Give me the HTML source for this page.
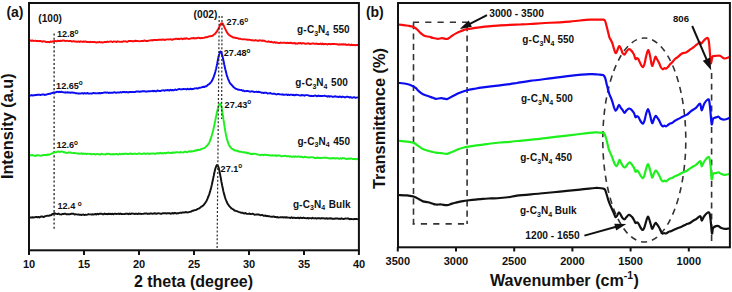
<!DOCTYPE html>
<html><head><meta charset="utf-8"><style>
html,body{margin:0;padding:0;background:#fff;width:732px;height:292px;overflow:hidden}
svg text{font-family:"Liberation Sans",sans-serif;font-weight:bold}
</style></head><body>
<svg width="732" height="292" viewBox="0 0 732 292" style="position:absolute;left:0;top:0;font-family:'Liberation Sans',sans-serif;font-weight:bold"><rect width="732" height="292" fill="#fff"/><g stroke="#1a1a1a" stroke-width="1.25" stroke-dasharray="2.1 2.1" fill="none"><line x1="54.1" y1="33.5" x2="54.1" y2="231"/></g><g fill="none" stroke-width="1.95" stroke-linejoin="round" stroke-linecap="round"><path d="M29.5,40.49 L30.5,40.43 L31.5,40.9 L32.5,40.5 L33.5,40.94 L34.5,40.88 L35.5,40.7 L36.5,41.13 L37.5,40.83 L38.5,41.21 L39.5,40.98 L40.5,41.05 L41.5,41.36 L42.5,41.74 L43.5,41.22 L44.5,41.35 L45.5,41.75 L46.5,42.11 L47.5,41.91 L48.5,41.87 L49.5,42.32 L50.5,41.46 L51.5,42 L52.5,41.43 L53.5,41.2 L54.5,41.05 L55.5,41.08 L56.5,41.35 L57.5,40.71 L58.5,40.97 L59.5,41.01 L60.5,40.8 L61.5,40.94 L62.5,40.55 L63.5,40.55 L64.5,40.66 L65.5,41.04 L66.5,40.87 L67.5,40.83 L68.5,41.1 L69.5,41.05 L70.5,40.98 L71.5,41.43 L72.5,41.41 L73.5,41.1 L74.5,41.42 L75.5,41.43 L76.5,41.77 L77.5,41.7 L78.5,41.4 L79.5,42 L80.5,41.34 L81.5,41.61 L82.5,41.91 L83.5,41.45 L84.5,41.75 L85.5,41.42 L86.5,41.95 L87.5,42.05 L88.5,41.93 L89.5,42.2 L90.5,41.78 L91.5,42.11 L92.5,42.06 L93.5,42.08 L94.5,42.01 L95.5,42.34 L96.5,42.46 L97.5,42.11 L98.5,42.29 L99.5,41.83 L100.5,42.35 L101.5,42.27 L102.5,42.52 L103.5,42.35 L104.5,41.89 L105.5,41.95 L106.5,42.14 L107.5,41.6 L108.5,41.92 L109.5,41.65 L110.5,41.58 L111.5,41.51 L112.5,42.04 L113.5,41.5 L114.5,41.57 L115.5,41.65 L116.5,42.01 L117.5,41.34 L118.5,41.61 L119.5,41.66 L120.5,41.9 L121.5,41.81 L122.5,41.82 L123.5,41.32 L124.5,41.4 L125.5,41.33 L126.5,41.72 L127.5,41.75 L128.5,41.07 L129.5,41.06 L130.5,41.07 L131.5,41.05 L132.5,41.22 L133.5,41.27 L134.5,40.98 L135.5,40.74 L136.5,41.04 L137.5,40.97 L138.5,41.1 L139.5,41.38 L140.5,41.13 L141.5,40.94 L142.5,40.97 L143.5,40.97 L144.5,40.42 L145.5,41.04 L146.5,40.9 L147.5,40.92 L148.5,40.81 L149.5,40.44 L150.5,40.39 L151.5,40.1 L152.5,40.48 L153.5,39.97 L154.5,39.92 L155.5,39.98 L156.5,39.9 L157.5,39.99 L158.5,39.7 L159.5,39.61 L160.5,39.68 L161.5,39.59 L162.5,39.75 L163.5,39.42 L164.5,40.05 L165.5,39.79 L166.5,39.36 L167.5,39.39 L168.5,39.42 L169.5,39.38 L170.5,39.13 L171.5,39.66 L172.5,39.72 L173.5,39.24 L174.5,39.2 L175.5,38.83 L176.5,38.78 L177.5,38.92 L178.5,38.8 L179.5,39.19 L180.5,38.61 L181.5,38.46 L182.5,39.16 L183.5,38.78 L184.5,38.44 L185.5,38.71 L186.5,38.25 L187.5,38.61 L188.5,38.92 L189.5,38.78 L190.5,38.6 L191.5,38.2 L192.5,38.23 L193.5,38.01 L194.5,38.43 L195.5,38.18 L196.5,38.3 L197.5,37.87 L198.5,37.71 L199.5,38.09 L200.5,38.17 L201.5,38.02 L202.5,37.92 L203.5,37.87 L204.5,37.72 L205.5,37.21 L206.5,37.31 L207.5,37.03 L208.5,36.57 L209.5,36.34 L210.5,36.24 L211.5,35.86 L211.9,35.95 L212.15,35.94 L212.4,35.61 L212.65,35.67 L212.9,35.55 L213.15,35.39 L213.4,34.99 L213.65,34.76 L213.9,34.59 L214.15,34.38 L214.4,34.18 L214.65,34.13 L214.9,34 L215.15,33.73 L215.4,33.32 L215.65,33.11 L215.9,32.87 L216.15,32.26 L216.4,32.16 L216.65,31.9 L216.9,31.47 L217.15,31.05 L217.4,30.52 L217.65,29.96 L217.9,29.74 L218.15,29.07 L218.4,28.75 L218.65,28.31 L218.9,27.55 L219.15,27.02 L219.4,26.71 L219.65,26.1 L219.9,25.37 L220.15,24.87 L220.4,24.44 L220.65,24.34 L220.9,23.96 L221.15,23.42 L221.4,23.49 L221.65,23.43 L221.9,23.26 L222.15,23.2 L222.4,23.43 L222.65,23.5 L222.9,23.78 L223.15,24.56 L223.4,24.89 L223.65,25.35 L223.9,26.06 L224.15,26.42 L224.4,27.17 L224.65,27.74 L224.9,28.07 L225.15,28.65 L225.4,29.22 L225.65,29.73 L225.9,30.38 L226.15,30.73 L226.4,31.26 L226.65,31.58 L226.9,32.3 L227.15,32.47 L227.4,32.88 L227.65,33.27 L227.9,33.72 L228.15,33.83 L228.4,34.31 L228.65,34.41 L228.9,34.68 L229.15,34.91 L229.4,34.93 L229.65,35.3 L229.9,35.39 L230.15,35.51 L230.4,36 L230.65,35.91 L230.9,36.18 L231.15,36.43 L231.4,36.49 L231.65,36.53 L231.9,36.73 L232.5,37.03 L233.5,37.59 L234.5,37.36 L235.5,37.98 L236.5,37.95 L237.5,38.16 L238.5,38.71 L239.5,38.64 L240.5,38.83 L241.5,39.13 L242.5,39.38 L243.5,39.13 L244.5,39.38 L245.5,39.4 L246.5,39.51 L247.5,39.75 L248.5,39.65 L249.5,39.81 L250.5,39.85 L251.5,40.31 L252.5,40.19 L253.5,40.42 L254.5,40.55 L255.5,40.08 L256.5,40.39 L257.5,40.77 L258.5,40.76 L259.5,40.27 L260.5,40.36 L261.5,40.73 L262.5,40.56 L263.5,40.81 L264.5,40.8 L265.5,41.39 L266.5,41.6 L267.5,41.81 L268.5,41.33 L269.5,41.9 L270.5,41.97 L271.5,41.67 L272.5,42.38 L273.5,42.56 L274.5,42.08 L275.5,42.78 L276.5,42.45 L277.5,42.63 L278.5,43.11 L279.5,43.02 L280.5,42.51 L281.5,42.76 L282.5,42.86 L283.5,42.75 L284.5,42.67 L285.5,42.8 L286.5,43.15 L287.5,42.62 L288.5,43.08 L289.5,43.02 L290.5,42.72 L291.5,43 L292.5,43.27 L293.5,43.21 L294.5,42.88 L295.5,43.65 L296.5,43.52 L297.5,43.7 L298.5,43.04 L299.5,43.2 L300.5,43.04 L301.5,43.66 L302.5,43.27 L303.5,43.18 L304.5,43.44 L305.5,43.85 L306.5,43.8 L307.5,43.37 L308.5,43.31 L309.5,43.95 L310.5,43.69 L311.5,43.82 L312.5,43.35 L313.5,43.35 L314.5,43.87 L315.5,43.69 L316.5,43.42 L317.5,44.14 L318.5,43.92 L319.5,44.09 L320.5,43.55 L321.5,44.2 L322.5,43.6 L323.5,44.27 L324.5,43.98 L325.5,43.92 L326.5,44.12 L327.5,44.45 L328.5,43.96 L329.5,43.88 L330.5,44.23 L331.5,44.03 L332.5,43.96 L333.5,44.04 L334.5,43.98 L335.5,44.13 L336.5,44.25 L337.5,44.28 L338.5,44.68 L339.5,44.33 L340.5,44.53 L341.5,44.31 L342.5,44.48 L343.5,44.25 L344.5,44.46 L345.5,44.31 L346.5,44.91 L347.5,44.8 L348.5,44.54 L349.5,44.8 L350.5,45.21 L351.5,44.57 L352.5,45.18 L353.5,44.9 L354.5,44.98 L355.5,45.29 L356.5,44.97 L357.5,45.09" stroke="#fa0a0a"/><path d="M29.5,95.44 L30.5,95.64 L31.5,95.1 L32.5,95.46 L33.5,95.33 L34.5,95.24 L35.5,95.03 L36.5,94.95 L37.5,94.69 L38.5,94.72 L39.5,94.62 L40.5,95.09 L41.5,94.64 L42.5,94.5 L43.5,94.37 L44.5,94.91 L45.5,94.83 L46.5,94.55 L47.5,94.11 L48.5,93.96 L49.5,93.8 L50.5,93.67 L51.5,93.16 L52.5,93.01 L53.5,92.36 L54.5,92.54 L55.5,92.44 L56.5,92 L57.5,91.65 L58.5,92.22 L59.5,91.8 L60.5,91.94 L61.5,91.75 L62.5,92.16 L63.5,92.33 L64.5,92.45 L65.5,92.31 L66.5,92.63 L67.5,92.28 L68.5,92.54 L69.5,92.45 L70.5,92.74 L71.5,92.51 L72.5,92.55 L73.5,92.83 L74.5,92.83 L75.5,93.17 L76.5,93.18 L77.5,93.41 L78.5,93.4 L79.5,93.47 L80.5,93.6 L81.5,93.21 L82.5,93.16 L83.5,93.69 L84.5,93.02 L85.5,93.48 L86.5,93.41 L87.5,92.94 L88.5,93.57 L89.5,93.6 L90.5,93.36 L91.5,93.41 L92.5,93.45 L93.5,92.88 L94.5,93.16 L95.5,93.11 L96.5,93.35 L97.5,93.29 L98.5,93.28 L99.5,93.06 L100.5,93.27 L101.5,93.07 L102.5,93.05 L103.5,92.65 L104.5,92.46 L105.5,92.52 L106.5,92.67 L107.5,92.43 L108.5,92.99 L109.5,92.74 L110.5,92.76 L111.5,92.73 L112.5,92.74 L113.5,92.56 L114.5,92.14 L115.5,92.74 L116.5,92.67 L117.5,92.45 L118.5,92.44 L119.5,92.51 L120.5,92 L121.5,92.5 L122.5,92.08 L123.5,91.9 L124.5,92.02 L125.5,92.35 L126.5,91.9 L127.5,92.29 L128.5,92.44 L129.5,92.02 L130.5,91.9 L131.5,91.94 L132.5,92.06 L133.5,92.09 L134.5,91.94 L135.5,91.92 L136.5,91.43 L137.5,91.45 L138.5,91.5 L139.5,91.85 L140.5,91.47 L141.5,91.64 L142.5,91.16 L143.5,91.16 L144.5,91.29 L145.5,91.57 L146.5,91.55 L147.5,91.5 L148.5,91.15 L149.5,91.29 L150.5,91.19 L151.5,91.14 L152.5,90.81 L153.5,91.37 L154.5,90.76 L155.5,91.33 L156.5,91.24 L157.5,90.45 L158.5,90.74 L159.5,90.98 L160.5,91.04 L161.5,90.57 L162.5,90.36 L163.5,90.26 L164.5,90.79 L165.5,90.14 L166.5,90.38 L167.5,89.96 L168.5,90.21 L169.5,90.49 L170.5,89.77 L171.5,90.25 L172.5,89.94 L173.5,90.18 L174.5,89.96 L175.5,89.51 L176.5,89.98 L177.5,89.58 L178.5,89.13 L179.5,89.04 L180.5,89.38 L181.5,89.32 L182.5,89.17 L183.5,89 L184.5,89.13 L185.5,89.06 L186.5,89.44 L187.5,88.72 L188.5,89.26 L189.5,89.28 L190.5,88.64 L191.5,89.21 L192.5,88.96 L193.5,89.02 L194.5,88.44 L195.5,88.39 L196.5,88.29 L197.5,88.63 L198.5,88.15 L199.5,87.79 L200.5,87.67 L201.5,87.37 L202.5,86.98 L203.5,86.76 L204.5,87.04 L205.5,86.22 L206.5,86.28 L207.5,85.17 L208.5,84.49 L209.5,83.82 L210.5,82.61 L210.75,82.37 L211,82.27 L211.25,81.89 L211.5,81.49 L211.75,81.03 L212,80.72 L212.25,80.29 L212.5,79.66 L212.75,79.23 L213,78.43 L213.25,78.14 L213.5,77.42 L213.75,76.91 L214,76.19 L214.25,75.33 L214.5,74.47 L214.75,74.01 L215,72.84 L215.25,72.07 L215.5,71.07 L215.75,70.05 L216,69.18 L216.25,68.17 L216.5,66.74 L216.75,65.72 L217,64.35 L217.25,63.21 L217.5,61.88 L217.75,60.51 L218,59.25 L218.25,58.03 L218.5,57.11 L218.75,55.82 L219,54.67 L219.25,54.02 L219.5,53.26 L219.75,52.41 L220,51.82 L220.25,51.56 L220.5,51.44 L220.75,51.63 L221,51.79 L221.25,52.26 L221.5,52.82 L221.75,53.64 L222,54.57 L222.25,55.43 L222.5,56.29 L222.75,57.37 L223,58.54 L223.25,59.64 L223.5,60.82 L223.75,61.91 L224,63.2 L224.25,64.68 L224.5,65.52 L224.75,66.84 L225,68.02 L225.25,69.21 L225.5,70.02 L225.75,71.07 L226,72.06 L226.25,73.07 L226.5,74 L226.75,75.07 L227,75.86 L227.25,76.66 L227.5,77.07 L227.75,77.79 L228,78.74 L228.25,79.45 L228.5,79.89 L228.75,80.51 L229,80.82 L229.25,81.5 L229.5,82.2 L229.75,82.61 L230,83.06 L230.25,83.52 L230.5,83.61 L231.5,84.74 L232.5,85.85 L233.5,87.01 L234.5,87.85 L235.5,88.64 L236.5,88.96 L237.5,89.33 L238.5,89.77 L239.5,89.81 L240.5,90.14 L241.5,89.95 L242.5,90.74 L243.5,90.48 L244.5,91.19 L245.5,91.11 L246.5,90.97 L247.5,90.95 L248.5,91.16 L249.5,91.57 L250.5,91.71 L251.5,91.33 L252.5,91.38 L253.5,91.82 L254.5,91.93 L255.5,91.85 L256.5,91.78 L257.5,92.14 L258.5,91.73 L259.5,92.01 L260.5,92.23 L261.5,92.76 L262.5,92.63 L263.5,92.95 L264.5,92.74 L265.5,92.67 L266.5,92.8 L267.5,93.49 L268.5,93.4 L269.5,93.2 L270.5,93.08 L271.5,93.58 L272.5,93.83 L273.5,93.74 L274.5,93.72 L275.5,94.16 L276.5,94.48 L277.5,94.03 L278.5,93.95 L279.5,94.24 L280.5,94.35 L281.5,94.6 L282.5,94.26 L283.5,94.78 L284.5,94.78 L285.5,94.63 L286.5,94.43 L287.5,95.09 L288.5,94.6 L289.5,95.05 L290.5,94.62 L291.5,94.65 L292.5,95.13 L293.5,94.79 L294.5,95.36 L295.5,95.03 L296.5,94.83 L297.5,94.89 L298.5,95.09 L299.5,95.33 L300.5,95.59 L301.5,94.99 L302.5,95.23 L303.5,95.12 L304.5,95.77 L305.5,95.14 L306.5,95.11 L307.5,95.15 L308.5,95.46 L309.5,95.9 L310.5,95.92 L311.5,95.84 L312.5,96.09 L313.5,96.08 L314.5,95.63 L315.5,95.55 L316.5,96.19 L317.5,96.08 L318.5,95.55 L319.5,96.1 L320.5,95.91 L321.5,95.95 L322.5,95.96 L323.5,95.87 L324.5,95.78 L325.5,96.05 L326.5,96.15 L327.5,96.67 L328.5,96.05 L329.5,96.77 L330.5,96.2 L331.5,96.37 L332.5,96.78 L333.5,96.82 L334.5,96.55 L335.5,96.29 L336.5,96.67 L337.5,96.63 L338.5,97.11 L339.5,96.57 L340.5,96.75 L341.5,97.22 L342.5,96.57 L343.5,96.92 L344.5,97.28 L345.5,97.29 L346.5,96.75 L347.5,96.79 L348.5,96.85 L349.5,97.58 L350.5,97.09 L351.5,97.52 L352.5,97.69 L353.5,97.28 L354.5,97.27 L355.5,97.86 L356.5,97.63 L357.5,97.39" stroke="#0c0cf0"/><path d="M29.5,155.48 L30.5,155.18 L31.5,155.17 L32.5,154.97 L33.5,155.59 L34.5,155.74 L35.5,155.54 L36.5,155.8 L37.5,155.09 L38.5,155.28 L39.5,155.44 L40.5,155.74 L41.5,155.65 L42.5,155.12 L43.5,154.93 L44.5,154.99 L45.5,154.93 L46.5,155.15 L47.5,154.43 L48.5,154.8 L49.5,154.49 L50.5,154.16 L51.5,153.72 L52.5,153.23 L53.5,152.68 L54.5,152.39 L55.5,152.22 L56.5,152.34 L57.5,151.57 L58.5,151.57 L59.5,152.04 L60.5,151.66 L61.5,151.54 L62.5,151.6 L63.5,152.17 L64.5,152.14 L65.5,152.81 L66.5,152.84 L67.5,152.99 L68.5,152.48 L69.5,152.4 L70.5,152.48 L71.5,152.87 L72.5,153.1 L73.5,152.96 L74.5,152.87 L75.5,153.08 L76.5,153.32 L77.5,153.43 L78.5,153.56 L79.5,153.71 L80.5,153.64 L81.5,153.27 L82.5,153.92 L83.5,153.55 L84.5,153.84 L85.5,153.75 L86.5,154.12 L87.5,153.75 L88.5,153.86 L89.5,153.9 L90.5,153.82 L91.5,154.41 L92.5,154.16 L93.5,153.96 L94.5,154.02 L95.5,154.5 L96.5,154.11 L97.5,153.89 L98.5,154.35 L99.5,154.23 L100.5,154.5 L101.5,153.79 L102.5,154.08 L103.5,154.36 L104.5,154.38 L105.5,154.44 L106.5,153.74 L107.5,153.94 L108.5,153.8 L109.5,153.86 L110.5,154.48 L111.5,154.17 L112.5,154.45 L113.5,154 L114.5,154.4 L115.5,154.06 L116.5,153.91 L117.5,154.32 L118.5,154.46 L119.5,153.78 L120.5,154.16 L121.5,154.17 L122.5,153.83 L123.5,153.94 L124.5,153.75 L125.5,153.78 L126.5,153.81 L127.5,154.08 L128.5,154.11 L129.5,153.73 L130.5,153.57 L131.5,153.81 L132.5,154.08 L133.5,153.67 L134.5,153.76 L135.5,153.66 L136.5,154.12 L137.5,153.9 L138.5,153.5 L139.5,153.52 L140.5,153.74 L141.5,153.85 L142.5,153.91 L143.5,153.46 L144.5,153.5 L145.5,153.91 L146.5,153.67 L147.5,153.55 L148.5,153.55 L149.5,154.04 L150.5,153.49 L151.5,153.66 L152.5,153.45 L153.5,153.46 L154.5,153.78 L155.5,153.85 L156.5,153.3 L157.5,153.13 L158.5,153.51 L159.5,153.05 L160.5,152.85 L161.5,153.52 L162.5,153.1 L163.5,153.37 L164.5,153 L165.5,153.34 L166.5,152.95 L167.5,152.67 L168.5,152.5 L169.5,152.89 L170.5,152.91 L171.5,153.08 L172.5,152.37 L173.5,152.75 L174.5,152.49 L175.5,152.55 L176.5,152.2 L177.5,152.26 L178.5,152.39 L179.5,152.65 L180.5,151.94 L181.5,152.18 L182.5,152.36 L183.5,152.42 L184.5,151.73 L185.5,151.6 L186.5,152.17 L187.5,152.11 L188.5,151.63 L189.5,151.19 L190.5,151.77 L191.5,151.19 L192.5,151.44 L193.5,151.04 L194.5,151.03 L195.5,150.31 L196.5,150.6 L197.5,149.93 L198.5,149.84 L199.5,149.92 L200.5,149.66 L201.5,148.9 L202.5,148.63 L203.5,148.38 L204.5,147.97 L205.5,147.2 L206.5,146.11 L207.5,145.05 L208.5,143.92 L209.5,142.13 L210.2,139.98 L210.45,139.53 L210.7,138.93 L210.95,137.92 L211.2,137.48 L211.45,136.4 L211.7,135.77 L211.95,134.89 L212.2,134.02 L212.45,132.96 L212.7,132.03 L212.95,131.09 L213.2,130 L213.45,129.02 L213.7,127.84 L213.95,126.72 L214.2,125.4 L214.45,124.47 L214.7,123.22 L214.95,121.91 L215.2,120.91 L215.45,119.69 L215.7,118.33 L215.95,116.99 L216.2,115.88 L216.45,114.53 L216.7,113.36 L216.95,112.32 L217.2,111.07 L217.45,110.14 L217.7,109.14 L217.95,108 L218.2,107.35 L218.45,106.32 L218.7,105.86 L218.95,105.26 L219.2,104.63 L219.45,104.04 L219.7,103.93 L219.95,103.7 L220.2,103.88 L220.45,103.69 L220.7,104.36 L220.95,105.03 L221.2,105.77 L221.45,106.84 L221.7,107.82 L221.95,109.5 L222.2,110.8 L222.45,112.57 L222.7,114.21 L222.95,115.62 L223.2,117.6 L223.45,119.4 L223.7,120.79 L223.95,122.61 L224.2,124.45 L224.45,125.85 L224.7,127.73 L224.95,129.01 L225.2,130.7 L225.45,131.83 L225.7,133.31 L225.95,134.75 L226.2,135.66 L226.45,136.81 L226.7,137.97 L226.95,138.89 L227.2,139.7 L227.45,140.63 L227.7,141.42 L227.95,142.48 L228.2,143.06 L228.45,143.79 L228.7,144.08 L228.95,144.87 L229.2,145.1 L229.45,145.72 L229.7,146.18 L229.95,146.46 L230.2,147.02 L230.5,147.3 L231.5,148.36 L232.5,149.36 L233.5,149.31 L234.5,150.46 L235.5,150.54 L236.5,150.65 L237.5,151.23 L238.5,151.03 L239.5,151.8 L240.5,151.69 L241.5,151.75 L242.5,152.3 L243.5,152.25 L244.5,152.24 L245.5,152.89 L246.5,152.51 L247.5,153.3 L248.5,153.02 L249.5,153.49 L250.5,153.93 L251.5,153.76 L252.5,153.98 L253.5,153.84 L254.5,153.74 L255.5,153.91 L256.5,154.14 L257.5,154.65 L258.5,154.64 L259.5,154.84 L260.5,155.24 L261.5,154.68 L262.5,154.81 L263.5,155.2 L264.5,154.74 L265.5,154.77 L266.5,155.1 L267.5,154.95 L268.5,155.19 L269.5,155.13 L270.5,155.46 L271.5,155.51 L272.5,155.24 L273.5,155.62 L274.5,155.54 L275.5,155.31 L276.5,155.99 L277.5,155.48 L278.5,155.45 L279.5,155.46 L280.5,155.95 L281.5,156.19 L282.5,156.17 L283.5,155.92 L284.5,155.87 L285.5,155.72 L286.5,156.28 L287.5,156.27 L288.5,156.15 L289.5,156.44 L290.5,156.33 L291.5,156.78 L292.5,156.67 L293.5,156.34 L294.5,156.91 L295.5,156.28 L296.5,156.72 L297.5,156.67 L298.5,156.59 L299.5,156.5 L300.5,157.13 L301.5,156.56 L302.5,157.05 L303.5,157.41 L304.5,156.82 L305.5,156.92 L306.5,157.3 L307.5,157.27 L308.5,157.43 L309.5,157.62 L310.5,157.16 L311.5,157.32 L312.5,157.36 L313.5,157.21 L314.5,157.93 L315.5,157.9 L316.5,157.9 L317.5,157.38 L318.5,158.09 L319.5,158.04 L320.5,157.84 L321.5,158.09 L322.5,157.89 L323.5,157.73 L324.5,157.67 L325.5,157.79 L326.5,157.67 L327.5,157.93 L328.5,158.29 L329.5,158.28 L330.5,158.42 L331.5,158.34 L332.5,158.02 L333.5,158.27 L334.5,158.21 L335.5,158.52 L336.5,158.33 L337.5,158.15 L338.5,158.48 L339.5,158.77 L340.5,158.2 L341.5,158.75 L342.5,158.09 L343.5,158.31 L344.5,158.32 L345.5,158.75 L346.5,158.94 L347.5,158.81 L348.5,158.5 L349.5,158.97 L350.5,158.56 L351.5,158.51 L352.5,159.08 L353.5,158.88 L354.5,158.96 L355.5,158.96 L356.5,159.24 L357.5,158.86" stroke="#1ef01e"/><path d="M29.5,217.57 L30.5,217.44 L31.5,217.56 L32.5,217.21 L33.5,217.43 L34.5,217.3 L35.5,217.08 L36.5,216.99 L37.5,217.31 L38.5,216.87 L39.5,217.48 L40.5,216.77 L41.5,216.57 L42.5,216.54 L43.5,217.09 L44.5,216.53 L45.5,216.19 L46.5,215.85 L47.5,215.61 L48.5,215.88 L49.5,215.54 L50.5,215.26 L51.5,214.96 L52.5,213.93 L53.5,213.72 L54.5,213.16 L55.5,213.74 L56.5,213.91 L57.5,214.06 L58.5,213.5 L59.5,214.24 L60.5,214.38 L61.5,214.51 L62.5,213.87 L63.5,213.92 L64.5,213.81 L65.5,213.72 L66.5,214.34 L67.5,214.28 L68.5,214.11 L69.5,214.24 L70.5,214.05 L71.5,213.74 L72.5,213.65 L73.5,213.79 L74.5,214.46 L75.5,214.16 L76.5,214.4 L77.5,214.62 L78.5,214.45 L79.5,214.68 L80.5,214.66 L81.5,214.97 L82.5,214.65 L83.5,214.57 L84.5,215.04 L85.5,214.63 L86.5,214.86 L87.5,214.63 L88.5,214.12 L89.5,214.38 L90.5,214.36 L91.5,214.59 L92.5,214.2 L93.5,214.44 L94.5,214.27 L95.5,213.97 L96.5,214.44 L97.5,213.78 L98.5,214.32 L99.5,213.76 L100.5,213.6 L101.5,213.76 L102.5,214.2 L103.5,214.37 L104.5,213.58 L105.5,213.97 L106.5,213.96 L107.5,214.2 L108.5,213.71 L109.5,213.95 L110.5,213.83 L111.5,214.21 L112.5,213.75 L113.5,214.29 L114.5,213.76 L115.5,213.69 L116.5,214.08 L117.5,213.91 L118.5,213.59 L119.5,214.01 L120.5,213.56 L121.5,214.12 L122.5,214.04 L123.5,214.1 L124.5,213.97 L125.5,213.74 L126.5,213.77 L127.5,213.76 L128.5,214.15 L129.5,213.5 L130.5,214.13 L131.5,213.43 L132.5,213.57 L133.5,213.6 L134.5,214.11 L135.5,213.78 L136.5,213.67 L137.5,214.06 L138.5,213.53 L139.5,213.7 L140.5,213.75 L141.5,213.92 L142.5,213.9 L143.5,213.81 L144.5,213.56 L145.5,213.53 L146.5,213.38 L147.5,213.91 L148.5,213.75 L149.5,213.8 L150.5,213.33 L151.5,213.55 L152.5,213.81 L153.5,213.65 L154.5,213.28 L155.5,213.55 L156.5,213.88 L157.5,213.35 L158.5,213.31 L159.5,213.39 L160.5,213.7 L161.5,213.8 L162.5,213.23 L163.5,213.22 L164.5,213.28 L165.5,213.32 L166.5,213.46 L167.5,213.15 L168.5,213.26 L169.5,213.13 L170.5,213.73 L171.5,213.5 L172.5,212.97 L173.5,213.62 L174.5,212.89 L175.5,213.07 L176.5,213.51 L177.5,213.31 L178.5,213.2 L179.5,212.9 L180.5,212.64 L181.5,212.92 L182.5,212.42 L183.5,212.41 L184.5,212.46 L185.5,212.07 L186.5,212.24 L187.5,212.42 L188.5,212.2 L189.5,211.89 L190.5,211.75 L191.5,211.3 L192.5,210.7 L193.5,210.7 L194.5,210.14 L195.5,210.03 L196.5,209.81 L197.5,209.02 L198.5,208.67 L199.5,208.27 L200.5,207.39 L201.5,206.51 L202.5,206.06 L203.5,205.19 L204.5,203.92 L205.5,202.47 L206.5,200.92 L207.2,199.35 L207.45,198.81 L207.7,198.18 L207.95,197.54 L208.2,197.07 L208.45,196.22 L208.7,195.69 L208.95,195.14 L209.2,194.39 L209.45,193.6 L209.7,192.66 L209.95,191.91 L210.2,191.07 L210.45,190.24 L210.7,189.23 L210.95,188.38 L211.2,187.48 L211.45,186.15 L211.7,185.28 L211.95,184.23 L212.2,182.95 L212.45,181.84 L212.7,180.86 L212.95,179.3 L213.2,178.3 L213.45,176.93 L213.7,175.98 L213.95,174.84 L214.2,173.5 L214.45,172.19 L214.7,171.27 L214.95,170.21 L215.2,169.3 L215.45,168.31 L215.7,167.55 L215.95,166.92 L216.2,166.2 L216.45,165.68 L216.7,165.55 L216.95,165.05 L217.2,165.17 L217.45,165.15 L217.7,165.55 L217.95,165.71 L218.2,166.63 L218.45,167.1 L218.7,167.82 L218.95,168.88 L219.2,169.99 L219.45,170.99 L219.7,172.37 L219.95,173.65 L220.2,175.07 L220.45,176.28 L220.7,177.6 L220.95,178.94 L221.2,180.51 L221.45,181.93 L221.7,183.09 L221.95,184.26 L222.2,185.76 L222.45,186.83 L222.7,187.95 L222.95,189.07 L223.2,190.45 L223.45,191.54 L223.7,192.5 L223.95,193.42 L224.2,194.41 L224.45,195.18 L224.7,196.34 L224.95,196.92 L225.2,197.82 L225.45,198.64 L225.7,199.36 L225.95,199.89 L226.2,200.47 L226.45,201.18 L226.7,201.59 L226.95,202.42 L227.2,202.75 L227.5,203.68 L228.5,204.93 L229.5,206.39 L230.5,207.41 L231.5,208.45 L232.5,209.01 L233.5,209.49 L234.5,210.59 L235.5,210.69 L236.5,211.05 L237.5,211.44 L238.5,211.88 L239.5,212.1 L240.5,212.51 L241.5,212.74 L242.5,212.69 L243.5,213.32 L244.5,213.42 L245.5,212.92 L246.5,213.67 L247.5,213.86 L248.5,213.87 L249.5,213.46 L250.5,214.14 L251.5,214.12 L252.5,213.75 L253.5,213.88 L254.5,214.75 L255.5,214.63 L256.5,214.42 L257.5,214.42 L258.5,214.56 L259.5,214.74 L260.5,215.29 L261.5,215.08 L262.5,215.05 L263.5,215.78 L264.5,215.82 L265.5,215.45 L266.5,216.15 L267.5,216.04 L268.5,216.3 L269.5,216.33 L270.5,216.63 L271.5,216.66 L272.5,216.82 L273.5,216.42 L274.5,216.94 L275.5,216.92 L276.5,217.2 L277.5,217.07 L278.5,217.54 L279.5,217.39 L280.5,217.23 L281.5,217.23 L282.5,217.18 L283.5,217.49 L284.5,217.17 L285.5,217.52 L286.5,217.29 L287.5,217.59 L288.5,217.62 L289.5,217.68 L290.5,217.96 L291.5,217.3 L292.5,217.99 L293.5,217.72 L294.5,217.82 L295.5,217.92 L296.5,218.08 L297.5,217.73 L298.5,217.79 L299.5,218.25 L300.5,217.56 L301.5,218.03 L302.5,218.05 L303.5,217.59 L304.5,218.07 L305.5,218.15 L306.5,218.37 L307.5,217.91 L308.5,218.46 L309.5,218.1 L310.5,218.1 L311.5,218.45 L312.5,217.78 L313.5,218.35 L314.5,218.29 L315.5,218.08 L316.5,218.52 L317.5,218.14 L318.5,218.25 L319.5,218.31 L320.5,218.53 L321.5,218.1 L322.5,218.3 L323.5,218.3 L324.5,218.43 L325.5,218.67 L326.5,218.26 L327.5,218.71 L328.5,218.38 L329.5,218.48 L330.5,218.32 L331.5,218.52 L332.5,218.92 L333.5,218.68 L334.5,218.81 L335.5,218.46 L336.5,218.46 L337.5,218.47 L338.5,218.72 L339.5,218.77 L340.5,218.91 L341.5,218.33 L342.5,218.9 L343.5,219.05 L344.5,218.79 L345.5,218.42 L346.5,218.63 L347.5,218.42 L348.5,218.58 L349.5,219.19 L350.5,218.95 L351.5,219.01 L352.5,219.13 L353.5,219.25 L354.5,219.03 L355.5,219.05 L356.5,219.07 L357.5,219.15" stroke="#111"/></g><g stroke="#2a2a2a" stroke-width="1.2" stroke-dasharray="2 1.9" fill="none"><line x1="219.2" y1="16" x2="217.1" y2="248"/><line x1="222.0" y1="16" x2="221.6" y2="119"/></g><rect x="29" y="3" width="329.9" height="247.3" fill="none" stroke="#111" stroke-width="2"/><g stroke="#111" stroke-width="2"><line x1="29" y1="250" x2="29" y2="255"/><line x1="84" y1="250" x2="84" y2="255"/><line x1="139" y1="250" x2="139" y2="255"/><line x1="194" y1="250" x2="194" y2="255"/><line x1="249" y1="250" x2="249" y2="255"/><line x1="304" y1="250" x2="304" y2="255"/><line x1="358.9" y1="250" x2="358.9" y2="255"/></g><g font-size="11" text-anchor="middle" fill="#111"><text x="29" y="267.5">10</text><text x="84" y="267.5">15</text><text x="139" y="267.5">20</text><text x="194" y="267.5">25</text><text x="249" y="267.5">30</text><text x="304" y="267.5">35</text><text x="359" y="267.5">40</text></g><text x="193.5" y="286.5" font-size="16" text-anchor="middle" fill="#111">2 theta (degree)</text><text transform="translate(13.2,126.2) rotate(-90)" font-size="16.3" text-anchor="middle" fill="#111">Intensity (a.u)</text><text x="6.4" y="16.5" font-size="14" fill="#111">(a)</text><g fill="#111"><text x="38.3" y="21.9" font-size="10.1">(100)</text><text x="193.6" y="17.6" font-size="10.2">(002)</text><text x="56.9" y="37.2" font-size="9.1">12.8<tspan font-size="6.4" dy="-3.4">o</tspan></text><text x="56.1" y="88.7" font-size="9.1">12.65<tspan font-size="6.4" dy="-3.4">o</tspan></text><text x="56.4" y="147.9" font-size="9.1">12.6<tspan font-size="6.4" dy="-3.4">o</tspan></text><text x="57.5" y="209.4" font-size="9.1">12.4 <tspan font-size="6.4" dy="-3.4">o</tspan></text><text x="226.6" y="25.1" font-size="9.1">27.6<tspan font-size="6.4" dy="-3.4">o</tspan></text><text x="223.8" y="55.9" font-size="9.1">27.48<tspan font-size="6.4" dy="-3.4">o</tspan></text><text x="224.6" y="107.5" font-size="9.1">27.43<tspan font-size="6.4" dy="-3.4">o</tspan></text><text x="220.6" y="171.7" font-size="9.1">27.1<tspan font-size="6.4" dy="-3.4">o</tspan></text><text x="297.1" y="32.8" font-size="10" text-anchor="start">g-<tspan dx="0.4">C</tspan><tspan font-size="7.0" dy="2.7">3</tspan><tspan dy="-2.7">N</tspan><tspan font-size="7.0" dy="2.7">4</tspan><tspan dy="-2.7" dx="0.9"> 550</tspan></text><text x="295.3" y="86.1" font-size="10" text-anchor="start">g-<tspan dx="0.4">C</tspan><tspan font-size="7.0" dy="2.7">3</tspan><tspan dy="-2.7">N</tspan><tspan font-size="7.0" dy="2.7">4</tspan><tspan dy="-2.7" dx="0.9"> 500</tspan></text><text x="297.5" y="144.6" font-size="10" text-anchor="start">g-<tspan dx="0.4">C</tspan><tspan font-size="7.0" dy="2.7">3</tspan><tspan dy="-2.7">N</tspan><tspan font-size="7.0" dy="2.7">4</tspan><tspan dy="-2.7" dx="0.9"> 450</tspan></text><text x="293" y="207.7" font-size="10" text-anchor="start">g-<tspan dx="0.4">C</tspan><tspan font-size="7.0" dy="2.7">3</tspan><tspan dy="-2.7">N</tspan><tspan font-size="7.0" dy="2.7">4</tspan><tspan dy="-2.7" dx="0.9"> Bulk</tspan></text></g><g stroke="#333" stroke-width="1.6" stroke-dasharray="6 4.8" fill="none"><path d="M412.9,22.3 H467.6" stroke-dasharray="6.2 6.1"/><path d="M467.1,22.3 V223.9" stroke-dasharray="6.2 4.1" stroke-dashoffset="-2.8"/><path d="M467.1,223.9 H412.8" stroke-dasharray="6.2 6.15" stroke-dashoffset="-3"/><path d="M413.5,22.3 V224.6" stroke-dasharray="6.2 4.1" stroke-dashoffset="-0.8"/><path d="M644.3,38 A41.5,102 0 1,1 644.3,242 A41.5,102 0 1,1 644.3,38" stroke-dasharray="6.3 4.91" stroke-dashoffset="3.15"/><line x1="711.6" y1="73" x2="711.6" y2="244"/></g><g fill="none" stroke-width="2.2" stroke-linejoin="round" stroke-linecap="round"><path d="M398,24.5C399.17,24.63 403.17,25.08 405,25.3C406.83,25.52 407.67,25.55 409,25.8C410.33,26.05 411.83,26.35 413,26.8C414.17,27.25 415.17,27.9 416,28.5C416.83,29.1 417.33,29.73 418,30.4C418.67,31.07 419.33,31.87 420,32.5C420.67,33.13 421.17,33.62 422,34.2C422.83,34.78 423.75,35.57 425,36C426.25,36.43 428.17,36.47 429.5,36.8C430.83,37.13 431.58,37.67 433,38C434.42,38.33 436.5,38.77 438,38.8C439.5,38.83 440.5,38.17 442,38.2C443.5,38.23 445.67,39.13 447,39C448.33,38.87 449,38.03 450,37.4C451,36.77 452,35.87 453,35.2C454,34.53 454.83,34.03 456,33.4C457.17,32.77 458.67,31.97 460,31.4C461.33,30.83 462.83,30.37 464,30C465.17,29.63 465.17,29.57 467,29.2C468.83,28.83 472.33,28.19 475,27.8C477.67,27.41 480.33,27.16 483,26.87C485.67,26.58 488.17,26.28 491,26.04C493.83,25.8 496.83,25.64 500,25.44C503.17,25.25 506.67,25.03 510,24.87C513.33,24.71 516.67,24.63 520,24.49C523.33,24.34 525.83,24.25 530,24C534.17,23.75 540,23.28 545,23C550,22.72 555.83,22.53 560,22.3C564.17,22.07 566.67,21.9 570,21.6C573.33,21.3 576.67,20.82 580,20.5C583.33,20.18 587,19.83 590,19.7C593,19.57 595.83,19.72 598,19.7C600.17,19.68 601.83,19.44 603,19.6C604.17,19.76 604.42,19.65 605,20.67C605.58,21.69 606,23.86 606.5,25.7C607,27.54 607.5,29.72 608,31.7C608.5,33.68 609,36.18 609.5,37.6C610,39.02 610.5,39.2 611,40.2C611.5,41.2 612,42.17 612.5,43.6C613,45.03 613.5,47.23 614,48.8C614.5,50.37 615,52.58 615.5,53C616,53.42 616.42,52.43 617,51.3C617.58,50.17 618.33,46.62 619,46.2C619.67,45.78 620.42,47.67 621,48.8C621.58,49.93 621.92,52.05 622.5,53C623.08,53.95 623.83,54.75 624.5,54.5C625.17,54.25 625.75,52.42 626.5,51.5C627.25,50.58 628.25,49.2 629,49C629.75,48.8 630.42,49.8 631,50.3C631.58,50.8 632,51.28 632.5,52C633,52.72 633.5,53.43 634,54.6C634.5,55.77 635,58.43 635.5,59C636,59.57 636.5,57.93 637,58C637.5,58.07 638,58.6 638.5,59.4C639,60.2 639.5,61.75 640,62.8C640.5,63.85 641,65 641.5,65.7C642,66.4 642.5,67.28 643,67C643.5,66.72 644,65.7 644.5,64C645,62.3 645.5,58.9 646,56.8C646.5,54.7 647.08,52.47 647.5,51.4C647.92,50.33 648.08,49.7 648.5,50.4C648.92,51.1 649.5,53.33 650,55.6C650.5,57.87 651.08,62.32 651.5,64C651.92,65.68 652.08,66.2 652.5,65.7C652.92,65.2 653.5,62.48 654,61C654.5,59.52 655,57.1 655.5,56.8C656,56.5 656.42,58.2 657,59.2C657.58,60.2 658.33,61.42 659,62.8C659.67,64.18 660.33,66.42 661,67.5C661.67,68.58 662.42,69.2 663,69.3C663.58,69.4 664,68.2 664.5,68.1C665,68 665.42,68.88 666,68.7C666.58,68.52 667.33,67.72 668,67C668.67,66.28 669.33,65.17 670,64.4C670.67,63.63 671.17,63.3 672,62.4C672.83,61.5 674,59.93 675,59C676,58.07 676.83,57.72 678,56.8C679.17,55.88 680.67,54.23 682,53.5C683.33,52.77 684.67,53.03 686,52.4C687.33,51.77 688.67,50.63 690,49.7C691.33,48.77 693,47.55 694,46.8C695,46.05 695.33,45.73 696,45.2C696.67,44.67 697.33,44.07 698,43.6C698.67,43.13 699.42,42.4 700,42.4C700.58,42.4 701,43.73 701.5,43.6C702,43.47 702.42,42.32 703,41.6C703.58,40.88 704.28,39.92 705,39.3C705.72,38.68 706.72,37.85 707.3,37.9C707.88,37.95 708.17,38.42 708.5,39.6C708.83,40.78 709.05,42.6 709.3,45C709.55,47.4 709.75,50.92 710,54C710.25,57.08 710.4,63.03 710.8,63.5C711.2,63.97 711.87,58.05 712.4,56.8C712.93,55.55 713.4,56.17 714,56C714.6,55.83 715,55.83 716,55.8C717,55.77 718.92,55.52 720,55.8C721.08,56.08 721.67,57.05 722.5,57.5C723.33,57.95 723.92,58.55 725,58.5C726.08,58.45 728.33,57.42 729,57.2" stroke="#fa0a0a"/><path d="M398,82.8C399.5,83 404.5,83.43 407,84C409.5,84.57 411.5,85.5 413,86.2C414.5,86.9 415,87.33 416,88.2C417,89.07 417.83,90.38 419,91.4C420.17,92.42 421.5,93.53 423,94.3C424.5,95.07 426.33,95.42 428,96C429.67,96.58 431.67,97.33 433,97.8C434.33,98.27 434.58,98.73 436,98.8C437.42,98.87 439.67,98.15 441.5,98.2C443.33,98.25 445.25,99.38 447,99.1C448.75,98.82 450.5,97.27 452,96.5C453.5,95.73 454.83,95.07 456,94.5C457.17,93.93 457.83,93.6 459,93.1C460.17,92.6 461.67,91.98 463,91.5C464.33,91.02 465,90.66 467,90.2C469,89.74 472.33,89.19 475,88.73C477.67,88.27 480.33,87.84 483,87.45C485.67,87.06 488.17,86.72 491,86.36C493.83,86 496.83,85.68 500,85.3C503.17,84.92 507.17,84.48 510,84.1C512.83,83.72 513.67,83.53 517,83C520.33,82.47 524.5,81.7 530,80.93C535.5,80.16 543.33,79.21 550,78.37C556.67,77.53 563.33,76.59 570,75.9C576.67,75.21 585.33,74.43 590,74.2C594.67,73.97 595.83,74.36 598,74.5C600.17,74.64 601.83,74.55 603,75.05C604.17,75.55 604.42,76.09 605,77.48C605.58,78.87 606,81.41 606.5,83.4C607,85.39 607.5,87.55 608,89.4C608.5,91.25 609,93.08 609.5,94.5C610,95.92 610.5,96.62 611,97.9C611.5,99.18 612,100.63 612.5,102.2C613,103.77 613.5,105.88 614,107.3C614.5,108.72 615,110.42 615.5,110.7C616,110.98 616.42,109.98 617,109C617.58,108.02 618.33,104.93 619,104.8C619.67,104.67 620.42,107.35 621,108.2C621.58,109.05 621.92,109.13 622.5,109.9C623.08,110.67 623.83,112.72 624.5,112.8C625.17,112.88 625.75,111.12 626.5,110.4C627.25,109.68 628.25,108.67 629,108.5C629.75,108.33 630.42,108.98 631,109.4C631.58,109.82 632,110.4 632.5,111C633,111.6 633.5,111.97 634,113C634.5,114.03 635,116.7 635.5,117.2C636,117.7 636.5,116 637,116C637.5,116 638,116.52 638.5,117.2C639,117.88 639.5,119.22 640,120.1C640.5,120.98 641,121.9 641.5,122.5C642,123.1 642.5,124 643,123.7C643.5,123.4 644,122.28 644.5,120.7C645,119.12 645.42,116.13 646,114.2C646.58,112.27 647.33,109 648,109.1C648.67,109.2 649.42,112.77 650,114.8C650.58,116.83 651.08,119.92 651.5,121.3C651.92,122.68 652.08,123.48 652.5,123.1C652.92,122.72 653.5,120.18 654,119C654.5,117.82 655,116.3 655.5,116C656,115.7 656.42,116.52 657,117.2C657.58,117.88 658.33,118.92 659,120.1C659.67,121.28 660.33,123.25 661,124.3C661.67,125.35 662.42,126.2 663,126.4C663.58,126.6 664,125.5 664.5,125.5C665,125.5 665.42,126.48 666,126.4C666.58,126.32 667.33,125.48 668,125C668.67,124.52 669.33,123.83 670,123.5C670.67,123.17 671.17,123.45 672,123C672.83,122.55 673.83,121.53 675,120.8C676.17,120.07 677.67,119.33 679,118.6C680.33,117.87 681.67,117.07 683,116.4C684.33,115.73 685.67,115.47 687,114.6C688.33,113.73 689.5,112.33 691,111.2C692.5,110.07 694.48,109.05 696,107.8C697.52,106.55 699.15,103.27 700.1,103.7C701.05,104.13 701.02,110.4 701.7,110.4C702.38,110.4 703.22,105.5 704.2,103.7C705.18,101.9 706.77,100.08 707.6,99.6C708.43,99.12 708.73,98.9 709.2,100.8C709.67,102.7 709.98,107.08 710.4,111C710.82,114.92 711.25,123 711.7,124.3C712.15,125.6 712.4,119.95 713.1,118.8C713.8,117.65 714.98,117.75 715.9,117.4C716.82,117.05 717.8,116.47 718.6,116.7C719.4,116.93 719.67,118.33 720.7,118.8C721.73,119.27 723.43,119.62 724.8,119.5C726.17,119.38 728.22,118.33 728.9,118.1" stroke="#0c0cf0"/><path d="M398,140.7C399.5,140.85 404.5,141.28 407,141.6C409.5,141.92 411.5,142.17 413,142.6C414.5,143.03 415,143.57 416,144.2C417,144.83 417.83,145.6 419,146.4C420.17,147.2 421.5,148.28 423,149C424.5,149.72 426.33,150.2 428,150.7C429.67,151.2 431.67,151.67 433,152C434.33,152.33 434.58,152.5 436,152.7C437.42,152.9 439.67,153.02 441.5,153.2C443.33,153.38 445.25,154 447,153.8C448.75,153.6 450.5,152.58 452,152C453.5,151.42 454.83,150.8 456,150.3C457.17,149.8 457.83,149.42 459,149C460.17,148.58 461.67,148.15 463,147.8C464.33,147.45 465,147.25 467,146.9C469,146.55 472.33,146.07 475,145.7C477.67,145.33 480.33,145.07 483,144.7C485.67,144.33 488.17,143.87 491,143.5C493.83,143.13 496.83,142.78 500,142.5C503.17,142.22 507.17,142.05 510,141.8C512.83,141.55 512,141.5 517,141C522,140.5 532.83,139.57 540,138.8C547.17,138.03 553.33,137.2 560,136.4C566.67,135.6 574.17,134.67 580,134C585.83,133.33 592,132.65 595,132.4C598,132.15 596.67,132.43 598,132.5C599.33,132.57 601.92,132.6 603,132.8C604.08,133 604,132.83 604.5,133.7C605,134.57 605.5,136.28 606,138C606.5,139.72 607,142.02 607.5,144C608,145.98 608.5,148.33 609,149.9C609.5,151.47 610,152.25 610.5,153.4C611,154.55 611.5,155.53 612,156.8C612.5,158.07 613,159.72 613.5,161C614,162.28 614.5,163.63 615,164.5C615.5,165.37 616,166.35 616.5,166.2C617,166.05 617.5,164.67 618,163.6C618.5,162.53 619,159.93 619.5,159.8C620,159.67 620.42,161.73 621,162.8C621.58,163.87 622.33,165.42 623,166.2C623.67,166.98 624.33,167.7 625,167.5C625.67,167.3 626.25,165.85 627,165C627.75,164.15 628.75,162.57 629.5,162.4C630.25,162.23 630.92,163.32 631.5,164C632.08,164.68 632.58,165.88 633,166.5C633.42,167.12 633.58,166.82 634,167.7C634.42,168.58 635,171.35 635.5,171.8C636,172.25 636.5,170.4 637,170.4C637.5,170.4 638,171.1 638.5,171.8C639,172.5 639.5,173.75 640,174.6C640.5,175.45 641,176.32 641.5,176.9C642,177.48 642.5,178.4 643,178.1C643.5,177.8 644,176.58 644.5,175.1C645,173.62 645.42,171.03 646,169.2C646.58,167.37 647.33,164 648,164.1C648.67,164.2 649.42,167.87 650,169.8C650.58,171.73 651.08,174.42 651.5,175.7C651.92,176.98 652.08,177.88 652.5,177.5C652.92,177.12 653.5,174.55 654,173.4C654.5,172.25 655,170.9 655.5,170.6C656,170.3 656.42,170.85 657,171.6C657.58,172.35 658.33,173.82 659,175.1C659.67,176.38 660.33,178.25 661,179.3C661.67,180.35 662.42,181.2 663,181.4C663.58,181.6 664,180.5 664.5,180.5C665,180.5 665.42,181.5 666,181.4C666.58,181.3 667.33,180.38 668,179.9C668.67,179.42 669.33,178.82 670,178.5C670.67,178.18 671.17,178.37 672,178C672.83,177.63 673.83,176.88 675,176.3C676.17,175.72 677.67,175.17 679,174.5C680.33,173.83 681.67,172.93 683,172.3C684.33,171.67 685.67,171.45 687,170.7C688.33,169.95 689.5,168.77 691,167.8C692.5,166.83 694.43,166 696,164.9C697.57,163.8 699.45,160.97 700.4,161.2C701.35,161.43 701.07,166.25 701.7,166.3C702.33,166.35 703.15,163.03 704.2,161.5C705.25,159.97 707.1,157.58 708,157.1C708.9,156.62 709.13,156.73 709.6,158.6C710.07,160.47 710.45,164.85 710.8,168.3C711.15,171.75 711.32,178.38 711.7,179.3C712.08,180.22 712.4,174.83 713.1,173.8C713.8,172.77 714.98,173.33 715.9,173.1C716.82,172.87 717.68,172.23 718.6,172.4C719.52,172.57 720.37,173.68 721.4,174.1C722.43,174.52 723.55,174.9 724.8,174.9C726.05,174.9 728.22,174.23 728.9,174.1" stroke="#1ef01e"/><path d="M398,195C399.5,195.07 404.5,195.17 407,195.4C409.5,195.63 411.5,196.03 413,196.4C414.5,196.77 415,197.13 416,197.6C417,198.07 417.83,198.57 419,199.2C420.17,199.83 421.5,200.88 423,201.4C424.5,201.92 426.33,201.9 428,202.3C429.67,202.7 431.67,203.43 433,203.8C434.33,204.17 434.58,204.38 436,204.5C437.42,204.62 439.67,204.38 441.5,204.5C443.33,204.62 445.25,205.35 447,205.2C448.75,205.05 450.5,204.03 452,203.6C453.5,203.17 454.83,202.88 456,202.6C457.17,202.32 457.83,202.15 459,201.9C460.17,201.65 461.67,201.33 463,201.1C464.33,200.87 465,200.75 467,200.5C469,200.25 472.33,199.88 475,199.6C477.67,199.32 480.33,199 483,198.8C485.67,198.6 488.17,198.53 491,198.4C493.83,198.27 496.83,198.23 500,198C503.17,197.77 507.17,197.4 510,197C512.83,196.6 512,196.18 517,195.6C522,195.02 532.83,194.17 540,193.5C547.17,192.83 553.33,192.23 560,191.6C566.67,190.97 574.17,190.3 580,189.7C585.83,189.1 592,188.28 595,188C598,187.72 596.67,187.92 598,188C599.33,188.08 601.83,188.22 603,188.5C604.17,188.78 604.42,188.78 605,189.7C605.58,190.62 606,192.43 606.5,194C607,195.57 607.5,197.53 608,199.1C608.5,200.67 609,202.12 609.5,203.4C610,204.68 610.5,205.67 611,206.8C611.5,207.93 612,209.07 612.5,210.2C613,211.33 613.5,212.47 614,213.6C614.5,214.73 615,216.63 615.5,217C616,217.37 616.42,216.57 617,215.8C617.58,215.03 618.33,212.48 619,212.4C619.67,212.32 620.42,214.38 621,215.3C621.58,216.22 621.92,217.23 622.5,217.9C623.08,218.57 623.83,219.45 624.5,219.3C625.17,219.15 625.75,217.75 626.5,217C627.25,216.25 628.25,214.97 629,214.8C629.75,214.63 630.42,215.55 631,216C631.58,216.45 632,216.83 632.5,217.5C633,218.17 633.5,219.08 634,220C634.5,220.92 635,222.6 635.5,223C636,223.4 636.5,222.3 637,222.4C637.5,222.5 638,222.9 638.5,223.6C639,224.3 639.5,225.7 640,226.6C640.5,227.5 641,228.45 641.5,229C642,229.55 642.5,230.2 643,229.9C643.5,229.6 644,228.55 644.5,227.2C645,225.85 645.42,223.55 646,221.8C646.58,220.05 647.33,216.7 648,216.7C648.67,216.7 649.42,220.05 650,221.8C650.58,223.55 651.08,226.05 651.5,227.2C651.92,228.35 652.08,229 652.5,228.7C652.92,228.4 653.5,226.35 654,225.4C654.5,224.45 655,223.2 655.5,223C656,222.8 656.42,223.5 657,224.2C657.58,224.9 658.33,226.02 659,227.2C659.67,228.38 660.42,230.25 661,231.3C661.58,232.35 662,233.2 662.5,233.5C663,233.8 663.42,233.1 664,233.1C664.58,233.1 665.33,233.63 666,233.5C666.67,233.37 667.33,232.67 668,232.3C668.67,231.93 669.5,231.48 670,231.3C670.5,231.12 670.33,231.45 671,231.2C671.67,230.95 672.83,230.32 674,229.8C675.17,229.28 676.67,228.65 678,228.1C679.33,227.55 680.67,227.12 682,226.5C683.33,225.88 684.67,224.98 686,224.4C687.33,223.82 688.67,223.68 690,223C691.33,222.32 693,220.93 694,220.3C695,219.67 694.93,219.88 696,219.2C697.07,218.52 699.45,215.97 700.4,216.2C701.35,216.43 701.07,220.6 701.7,220.6C702.33,220.6 703.1,217.58 704.2,216.2C705.3,214.82 707.35,212.53 708.3,212.3C709.25,212.07 709.43,212.73 709.9,214.8C710.37,216.87 710.75,221.57 711.1,224.7C711.45,227.83 711.67,233.03 712,233.6C712.33,234.17 712.45,229.35 713.1,228.1C713.75,226.85 714.98,226.43 715.9,226.1C716.82,225.77 717.68,225.77 718.6,226.1C719.52,226.43 720.37,227.65 721.4,228.1C722.43,228.55 723.55,228.73 724.8,228.8C726.05,228.87 728.22,228.55 728.9,228.5" stroke="#111"/></g><rect x="398" y="3" width="331.9" height="244.3" fill="none" stroke="#111" stroke-width="2"/><g stroke="#111" stroke-width="2"><line x1="397.8" y1="247" x2="397.8" y2="251.5"/><line x1="456" y1="247" x2="456" y2="251.5"/><line x1="514.2" y1="247" x2="514.2" y2="251.5"/><line x1="572.4" y1="247" x2="572.4" y2="251.5"/><line x1="630.6" y1="247" x2="630.6" y2="251.5"/><line x1="688.8" y1="247" x2="688.8" y2="251.5"/></g><g font-size="11" text-anchor="middle" fill="#111"><text x="397.8" y="264.7">3500</text><text x="456" y="264.7">3000</text><text x="514.2" y="264.7">2500</text><text x="572.4" y="264.7">2000</text><text x="630.6" y="264.7">1500</text><text x="688.8" y="264.7">1000</text></g><text x="489.9" y="285.9" font-size="16.15" fill="#111">Wavenumber (cm<tspan font-size="10.5" dy="-6.6">-1</tspan><tspan dy="6.6" dx="0.3">)</tspan></text><text transform="translate(385.2,118.5) rotate(-90)" font-size="16.4" text-anchor="middle" fill="#111">Transmittance (%)</text><text x="365.9" y="16.7" font-size="14" fill="#111">(b)</text><g fill="#111"><text x="522.3" y="42.8" font-size="10" text-anchor="start">g-<tspan dx="0.4">C</tspan><tspan font-size="7.0" dy="2.7">3</tspan><tspan dy="-2.7">N</tspan><tspan font-size="7.0" dy="2.7">4</tspan><tspan dy="-2.7" dx="0.2"> 550</tspan></text><text x="521.0" y="102.2" font-size="10" text-anchor="start">g-<tspan dx="0.4">C</tspan><tspan font-size="7.0" dy="2.7">3</tspan><tspan dy="-2.7">N</tspan><tspan font-size="7.0" dy="2.7">4</tspan><tspan dy="-2.7" dx="0.2"> 500</tspan></text><text x="520.2" y="161.3" font-size="10" text-anchor="start">g-<tspan dx="0.4">C</tspan><tspan font-size="7.0" dy="2.7">3</tspan><tspan dy="-2.7">N</tspan><tspan font-size="7.0" dy="2.7">4</tspan><tspan dy="-2.7" dx="0.2"> 450</tspan></text><text x="519.9" y="214.4" font-size="10" text-anchor="start">g-<tspan dx="0.4">C</tspan><tspan font-size="7.0" dy="2.7">3</tspan><tspan dy="-2.7">N</tspan><tspan font-size="7.0" dy="2.7">4</tspan><tspan dy="-2.7" dx="0"> Bulk</tspan></text><text x="489.2" y="16.5" font-size="10.25">3000 - 3500</text><text x="525.3" y="238.6" font-size="10.2">1200 - 1650</text><text x="673" y="21.7" font-size="9.6">806</text></g><line x1="487" y1="15.2" x2="469.42" y2="24.05" stroke="#111" stroke-width="2.0"/><path d="M459.6,29 L468.74,20.48 L471.89,26.73 Z" fill="#111"/><line x1="692.2" y1="26" x2="706.86" y2="60.09" stroke="#111" stroke-width="2.0"/><path d="M711.2,70.2 L702.79,60.76 L710.14,57.6 Z" fill="#111"/><line x1="584.4" y1="235.6" x2="616.18" y2="226.8" stroke="#111" stroke-width="2.0"/><path d="M626.3,224 L616.15,230.44 L614.28,223.7 Z" fill="#111"/></svg>
</body></html>
